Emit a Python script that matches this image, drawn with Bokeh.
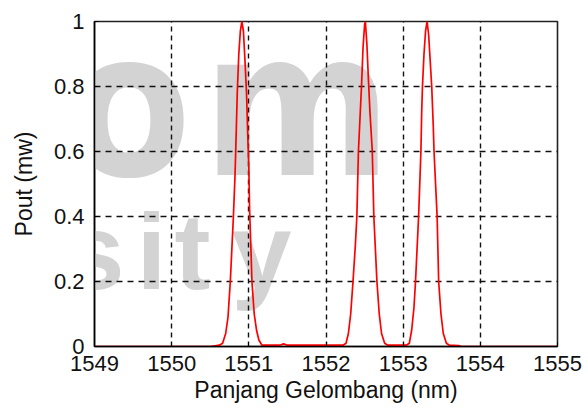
from bokeh.plotting import figure
from bokeh.models import Label, FixedTicker, NumeralTickFormatter
from bokeh.embed import file_html
from bokeh.resources import INLINE

# Output spectrum: wavelength (nm) and output power (mW)
wavelength = [
    1549.00, 1550.50, 1550.62, 1550.66, 1550.70, 1550.73, 1550.76, 1550.78,
    1550.80, 1550.82, 1550.83, 1550.85, 1550.87, 1550.89, 1550.91, 1550.93,
    1550.95, 1550.97, 1550.99, 1551.00, 1551.01, 1551.03, 1551.04, 1551.07,
    1551.10, 1551.13, 1551.17, 1551.40, 1551.45, 1551.50,
    1552.22, 1552.26, 1552.29, 1552.32, 1552.35, 1552.38, 1552.40, 1552.42,
    1552.44, 1552.46, 1552.48, 1552.50, 1552.51, 1552.53, 1552.55, 1552.57,
    1552.60, 1552.62, 1552.64, 1552.66, 1552.69, 1552.72, 1552.76, 1552.80,
    1553.04, 1553.08, 1553.11, 1553.14, 1553.16, 1553.18, 1553.20, 1553.23,
    1553.24, 1553.25, 1553.27, 1553.29, 1553.31, 1553.33, 1553.35, 1553.37,
    1553.39, 1553.40, 1553.42, 1553.44, 1553.45, 1553.46, 1553.49, 1553.52,
    1553.56, 1553.60, 1553.72, 1553.75, 1555.00,
]
power = [
    0.000, 0.000, 0.004, 0.010, 0.040, 0.090, 0.200, 0.300,
    0.400, 0.520, 0.600, 0.780, 0.900, 0.970, 1.000, 0.970,
    0.880, 0.780, 0.620, 0.550, 0.420, 0.280, 0.200, 0.100,
    0.050, 0.020, 0.004, 0.004, 0.008, 0.004,
    0.004, 0.010, 0.040, 0.100, 0.200, 0.310, 0.400, 0.600,
    0.700, 0.800, 0.920, 0.990, 1.000, 0.930, 0.820, 0.720,
    0.600, 0.400, 0.300, 0.200, 0.100, 0.040, 0.010, 0.004,
    0.004, 0.010, 0.050, 0.120, 0.200, 0.300, 0.400, 0.600,
    0.720, 0.800, 0.900, 0.970, 1.000, 0.960, 0.880, 0.800,
    0.680, 0.600, 0.500, 0.400, 0.300, 0.200, 0.100, 0.040,
    0.010, 0.004, 0.003, 0.000, 0.000,
]

x_ticks = [1549, 1550, 1551, 1552, 1553, 1554, 1555]
y_ticks = [0, 0.2, 0.4, 0.6, 0.8, 1]

TICK_FONT = "Liberation Sans"

p = figure(
    width=588, height=409,
    x_range=(1549, 1555), y_range=(0, 1),
    output_backend="svg", toolbar_location=None,
    min_border_left=94, min_border_right=31,
    min_border_top=21, min_border_bottom=63,
    x_axis_label="Panjang Gelombang (nm)",
    y_axis_label="Pout (mw)",
)
p.background_fill_color = "white"
p.border_fill_color = "white"
p.outline_line_color = "#222222"
p.outline_line_width = 1.6

# faint watermark lettering behind the data
wm_big = "Liberation Sans Narrow, DejaVu Sans Condensed, sans-serif"
wm_small = "Liberation Sans, sans-serif"
for ch, sx in [("o", -28), ("m", 108)]:
    p.add_layout(Label(x=sx, y=242, x_units="screen", y_units="screen",
                       text=ch, text_font=wm_big, text_font_style="bold",
                       text_font_size="202px", text_color="#d3d3d3",
                       text_baseline="alphabetic", level="image"))
for ch, sx in [("s", -30), ("i", 42), ("t", 80), ("y", 137)]:
    p.add_layout(Label(x=sx, y=95, x_units="screen", y_units="screen",
                       text=ch, text_font=wm_small, text_font_style="bold",
                       text_font_size="108px", text_color="#d3d3d3",
                       text_baseline="alphabetic", level="image"))

p.line(wavelength, power, line_color="red", line_width=1.7)

for ax in (p.xaxis[0], p.yaxis[0]):
    ax.axis_line_color = "black"
    ax.axis_line_width = 1.5
    ax.major_tick_in = 4
    ax.major_tick_out = 0
    ax.minor_tick_line_color = None
    ax.major_tick_line_color = "black"
    ax.major_label_text_font = TICK_FONT
    ax.major_label_text_font_size = "22px"
    ax.major_label_text_color = "#111111"
    ax.axis_label_text_font = TICK_FONT
    ax.axis_label_text_font_size = "23px"
    ax.axis_label_text_font_style = "normal"
    ax.axis_label_text_color = "#111111"

p.xaxis.ticker = FixedTicker(ticks=x_ticks)
p.yaxis.ticker = FixedTicker(ticks=y_ticks)
p.yaxis.formatter = NumeralTickFormatter(format="0.[0]")
p.xaxis.major_label_standoff = 9
p.xaxis.axis_label_standoff = 3
p.yaxis.major_label_standoff = 10
p.yaxis.axis_label_standoff = 14

p.xgrid.ticker = FixedTicker(ticks=x_ticks)
p.ygrid.ticker = FixedTicker(ticks=y_ticks)
p.xgrid.grid_line_color = "#111111"
p.xgrid.grid_line_width = 1.4
p.xgrid.grid_line_dash = "5 4"
p.ygrid.grid_line_color = "#111111"
p.ygrid.grid_line_width = 1.4
p.ygrid.grid_line_dash = "6 5"

open("out.html", "w").write(file_html(p, INLINE))
